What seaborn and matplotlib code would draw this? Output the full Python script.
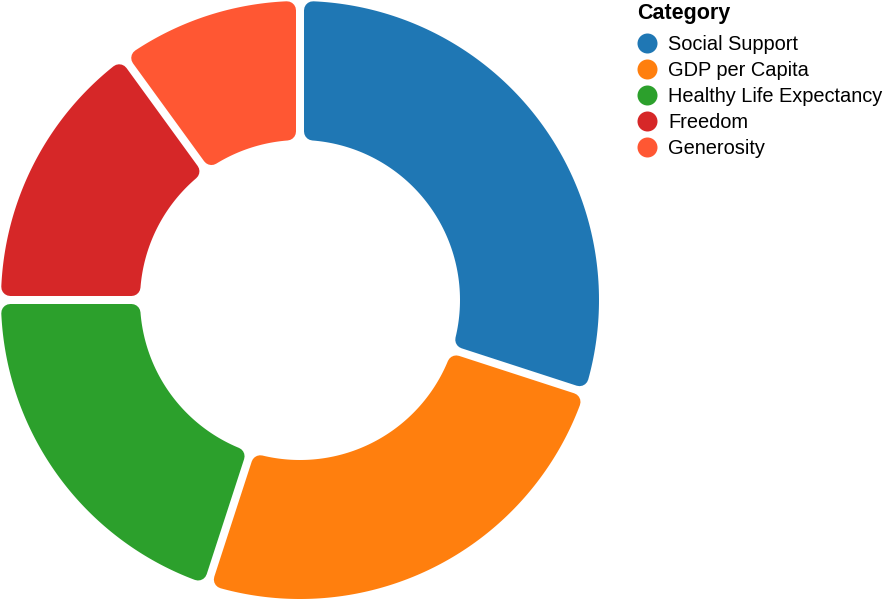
import numpy as np
import matplotlib
matplotlib.use('Agg')
import matplotlib.pyplot as plt
from matplotlib.path import Path
from matplotlib.patches import PathPatch
from matplotlib.lines import Line2D
import seaborn as sns

# data
categories = ["Social Support", "GDP per Capita", "Healthy Life Expectancy", "Freedom", "Generosity"]
values = [30, 25, 20, 15, 10]
colors = ["#1f77b4", "#ff7f0e", "#2ca02c", "#d62728", "#ff5733"]

sns.set_style('white')
plt.rcParams['font.family'] = ['Liberation Sans', 'DejaVu Sans']
plt.rcParams['text.color'] = 'black'

R_OUT, R_IN = 299, 160   # px
PAD = 8                  # gap between slices, px
CORNER = 9               # corner radius, px
PX2PT = 72 / 100


def slice_path(a0, a1):
    # inset slice shape; the round-joined stroke grows it back with rounded corners
    s = PAD / 2 + CORNER
    ro, ri = R_OUT - CORNER, R_IN + CORNER
    t_out = np.linspace(a0 + np.arcsin(s / ro), a1 - np.arcsin(s / ro), 120)
    t_in = np.linspace(a1 - np.arcsin(s / ri), a0 + np.arcsin(s / ri), 80)
    xs = np.r_[ro * np.sin(t_out), ri * np.sin(t_in)]
    ys = np.r_[ro * np.cos(t_out), ri * np.cos(t_in)]
    verts = np.c_[xs, ys]
    return Path(np.vstack([verts, verts[:1]]), closed=True)


fig = plt.figure(figsize=(8.84, 6.0), dpi=100)
ax = fig.add_axes([0, 0, 600 / 884, 1])
ax.set_xlim(-300, 300)
ax.set_ylim(-300, 300)
ax.axis('off')

edges = np.r_[0, np.cumsum(values)] / np.sum(values) * 2 * np.pi
for a0, a1, c in zip(edges[:-1], edges[1:], colors):
    ax.add_patch(PathPatch(slice_path(a0, a1), facecolor=c, edgecolor=c,
                           lw=2 * CORNER * PX2PT, joinstyle='round'))

FS = 14.4
SPACING = 0.35
handles = [Line2D([], [], marker='o', ls='', markersize=20 * PX2PT,
                  markerfacecolor=c, markeredgewidth=0) for c in colors]
leg = fig.legend(handles, categories, title='Category', loc='upper left',
                 bbox_to_anchor=(637 / 884, 1 - 3 / 600), frameon=False,
                 fontsize=FS, title_fontproperties={'weight': 'bold', 'size': 15.5},
                 alignment='left', borderpad=0, borderaxespad=0,
                 handlelength=1.0, handletextpad=0.55, labelspacing=SPACING)
# a bit more room under the title
leg._legend_box.sep = SPACING * FS + 4 * PX2PT

fig.savefig('out.png', dpi=100)
